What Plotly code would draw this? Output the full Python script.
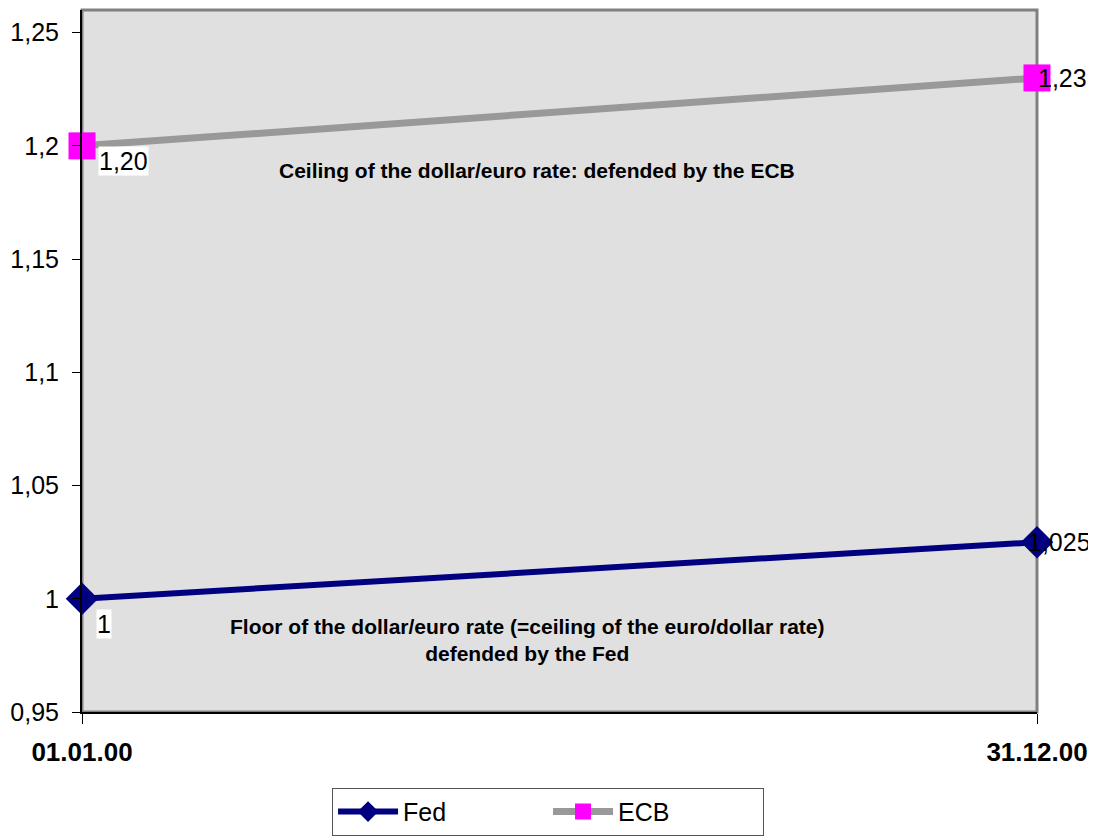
import plotly.graph_objects as go

dates = ["01.01.00", "31.12.00"]
x_pos = [0, 1]
fed = [1.0, 1.025]
ecb = [1.20, 1.23]
fed_labels = ["1", "1,025"]
ecb_labels = ["1,20", "1,23"]
y_ticks = [0.95, 1.0, 1.05, 1.1, 1.15, 1.2, 1.25]
y_tick_text = ["0,95", "1", "1,05", "1,1", "1,15", "1,2", "1,25"]

font = "Liberation Sans, Arial, sans-serif"

fig = go.Figure()
fig.add_trace(go.Scatter(
    x=x_pos, y=fed, name="Fed", mode="lines+markers", cliponaxis=False,
    line=dict(color="#000080", width=6),
    marker=dict(symbol="diamond", size=25, color="#000080"),
))
fig.add_trace(go.Scatter(
    x=x_pos, y=ecb, name="ECB", mode="lines+markers", cliponaxis=False,
    line=dict(color="#999999", width=7),
    marker=dict(symbol="square", size=27, color="#ff00ff"),
))

annotations = []
# Fed data labels
fed_shift = [(14, -10, "top", "white"), (-10, 0, "middle", "rgba(0,0,0,0)")]
for (xv, yv, t), (xs, ys, ya, bg) in zip(zip(x_pos, fed, fed_labels), fed_shift):
    annotations.append(dict(x=xv, y=yv, text=t, showarrow=False, xref="x", yref="y",
                            xanchor="left", yanchor=ya, xshift=xs, yshift=ys, bgcolor=bg,
                            borderpad=0, font=dict(family=font, size=25, color="black")))
# ECB data labels
ecb_shift = [(16, 0, "top", "white"), (0, 0, "middle", "rgba(0,0,0,0)")]
for (xv, yv, t), (xs, ys, ya, bg) in zip(zip(x_pos, ecb, ecb_labels), ecb_shift):
    annotations.append(dict(x=xv, y=yv, text=t, showarrow=False, xref="x", yref="y",
                            xanchor="left", yanchor=ya, xshift=xs, yshift=ys, bgcolor=bg,
                            borderpad=0, font=dict(family=font, size=25, color="black")))
annotations.append(dict(x=0.476, y=1.189, xref="paper", yref="y",
                        text="<b>Ceiling of the dollar/euro rate: defended by the ECB</b>",
                        showarrow=False, font=dict(family=font, size=21, color="black")))
annotations.append(dict(x=0.467, y=0.982, xref="paper", yref="y",
                        text="<b>Floor of the dollar/euro rate (=ceiling of the euro/dollar rate)<br>defended by the Fed</b>",
                        showarrow=False, align="center", font=dict(family=font, size=21, color="black")))

fig.update_layout(
    width=1088, height=832,
    margin=dict(l=74, r=59, t=2, b=128, autoexpand=False),
    paper_bgcolor="white", plot_bgcolor="#e0e0e0",
    font=dict(family=font, size=25, color="black"),
    annotations=annotations,
    showlegend=True,
    legend=dict(orientation="h", x=0.488, xanchor="center", y=-0.108, yanchor="top",
                bordercolor="#555555", borderwidth=1, bgcolor="white",
                font=dict(family=font, size=25), entrywidthmode="pixels", entrywidth=140,
                itemwidth=60),
    shapes=[dict(type="rect", xref="paper", yref="paper", x0=0, x1=1, y0=0, y1=1,
                 line=dict(color="#808080", width=3), layer="below")],
)
fig.update_xaxes(range=[0, 1], tickvals=x_pos, ticktext=[f"<b>{d}</b>" for d in dates],
                 showgrid=False, zeroline=False, showline=True, linecolor="black", linewidth=2,
                 ticks="outside", ticklen=10, tickcolor="black", ticklabelstandoff=6,
                 tickfont=dict(family=font, size=26))
fig.update_yaxes(range=[0.95, 1.26], tickvals=y_ticks, ticktext=y_tick_text,
                 showgrid=False, zeroline=False, showline=True, linecolor="black", linewidth=2,
                 ticks="outside", ticklen=8, tickcolor="black", ticklabelstandoff=8,
                 tickfont=dict(family=font, size=25))
fig.write_html("out.html")
